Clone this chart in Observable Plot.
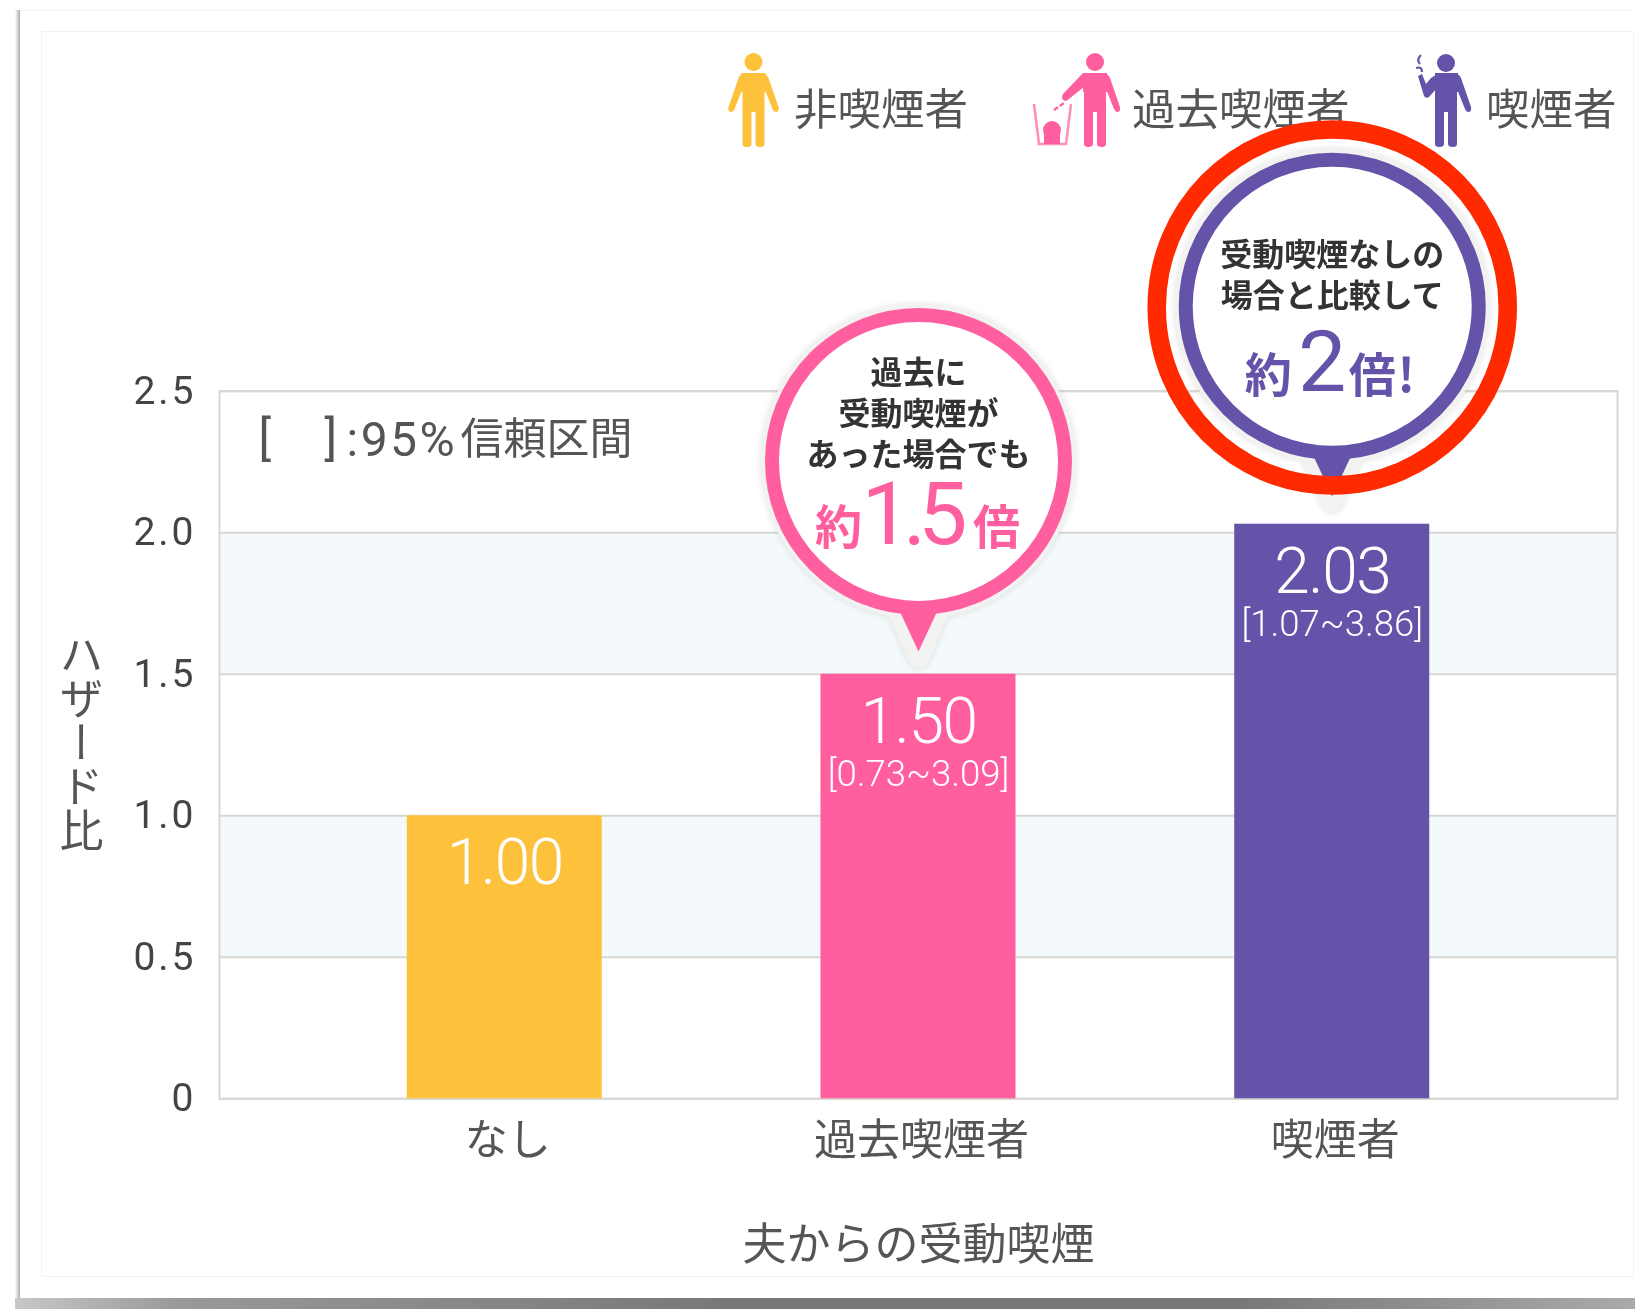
<!DOCTYPE html>
<html lang="ja">
<head>
<meta charset="utf-8">
<script src="https://cdn.jsdelivr.net/npm/d3@7"></script>
<script src="https://cdn.jsdelivr.net/npm/@observablehq/plot@0.6"></script>
<style>
html,body{margin:0;padding:0;background:#fff;overflow:hidden}
#page{position:relative;width:1635px;height:1309px;overflow:hidden;background:#fff}
#page>*{position:absolute}
.legend{font:43.5px "Noto Sans CJK JP";color:#555;line-height:1;white-space:nowrap;filter:blur(.6px)}
#page g[font-size="39"] text{letter-spacing:3px}
#page g[font-size="64"] text{letter-spacing:-1.5px}
#page g[font-size="88"] text{letter-spacing:-8px}
#page g[font-size="48"] text{letter-spacing:2.5px}
</style>
</head>
<body>
<div id="page">
  <div style="left:15px;top:10px;width:5px;height:1292px;background:linear-gradient(90deg,#fff,#aaa)"></div>
  <div style="left:20px;top:10px;width:1615px;height:1288px;background:#fff;border-top:1px solid #f4f4f4"></div>
  <div style="left:15px;top:1298px;width:1620px;height:11px;background:linear-gradient(90deg,#c8c8c8 0%,#999 10%,#777 45%,#777 75%,#aaa 100%)"></div>
  <div style="left:41px;top:31px;width:1591px;height:1244px;border:1px solid #f2f2f2"></div>
  <svg style="left:0;top:0;filter:blur(.6px)" width="1635" height="200" id="icons">
    <defs>
      <path id="legs" d="M2 112L2 144Q2 147 7 147Q11 147 11 144L11 88L-11 88L-11 144Q-11 147 -7 147Q-2 147 -2 144L-2 112Z"/>
      <path id="armR" d="M6 73Q13 73 15 78L25 107Q26 112 22 112Q20 112 19 109L9 84Z"/>
      <path id="armL" d="M-6 73Q-13 73 -15 78L-25 107Q-26 112 -22 112Q-20 112 -19 109L-9 84Z"/>
    </defs>
    <g fill="#fdc13c" transform="translate(753.5,0)">
      <circle cy="62" r="9"/><path d="M-12 73H12V92H-12Z"/><use href="#legs"/><use href="#armR"/><use href="#armL"/>
    </g>
    <g fill="#ff5f9f" transform="translate(1095,0)">
      <circle cy="62" r="9"/><path d="M-12 73H12V92H-12Z"/><use href="#legs"/><use href="#armR"/>
      <path d="M-5 73L-12 73L-32 94Q-35 99 -30 101Q-28 101 -26 99L-10 86Z"/>
    </g>
    <g transform="translate(1052,0)">
      <path d="M-18 104L-13 144H14L19 104" fill="none" stroke="#ff8fbb" stroke-width="2.6"/>
      <circle cy="130" r="9" fill="#ff5f9f"/>
      <path d="M-8 132H8V144H-8Z" fill="#ff5f9f"/>
      <path d="M2 110L12 103" stroke="#ff5f9f" stroke-width="2.4" stroke-dasharray="5 2"/>
    </g>
    <g fill="#6453a9" transform="translate(1446,0)">
      <circle cy="63" r="9"/><path d="M-11 73H12V92H-11Z"/><use href="#legs"/><use href="#armR"/>
      <path d="M-7 73L-15 78L-20 84L-24 74L-28 76L-22 96Q-20 99 -17 97L-9 88Z"/>
      <path d="M-25 55Q-30 60 -26 64M-30 68Q-24 66 -24 72" fill="none" stroke="#6453a9" stroke-width="2.2"/>
    </g>
  </svg>
  <div class="legend" style="left:794px;top:85px">非喫煙者</div>
  <div class="legend" style="left:1132px;top:85px">過去喫煙者</div>
  <div class="legend" style="left:1486px;top:85px">喫煙者</div>
</div>
<script>
const categories = ["なし", "過去喫煙者", "喫煙者"];
const hazard = [1.00, 1.50, 2.03];
const ciLabels = [null, "[0.73~3.09]", "[1.07~3.86]"];
const barColors = ["#fdc13c", "#ff5f9f", "#6453a9"];
const yTicks = [0, 0.5, 1, 1.5, 2, 2.5];
const bandRanges = [[0.5, 1], [1.5, 2]];
const xTitle = "夫からの受動喫煙";
const yTitle = "ハザード比";
const ciNoteLatin = ":95%";
const ciNoteCjk = "信頼区間";
const pinkLines = ["過去に", "受動喫煙が", "あった場合でも"];
const purpleLines = ["受動喫煙なしの", "場合と比較して"];

const latin = 'Roboto, "Noto Sans CJK JP"';
const cjk = '"Noto Sans CJK JP"';
const bars = categories.map((c, i) => ({c, v: hazard[i], ci: ciLabels[i], color: barColors[i]}));
const callouts = [
  {c: categories[1], y: 2.252, color: barColors[1]},
  {c: categories[2], y: 2.80, color: barColors[2]}
];

const tailRatio = 1.297, baseRatio = 0.15;
const tail = {draw(p, size) {
  const R = Math.sqrt(size / Math.PI), b = R * baseRatio, h = Math.sqrt(R * R - b * b);
  p.moveTo(-b, h - 2); p.lineTo(b, h - 2); p.lineTo(0, R * tailRatio); p.closePath();
}};
const halo = {draw(p, size) {
  const R = Math.sqrt(size / Math.PI), b = R * baseRatio, h = Math.sqrt(R * R - b * b);
  const a = Math.atan2(h, b);
  p.moveTo(0, R * tailRatio * 1.03);
  p.lineTo(b, h);
  p.arc(0, 0, R, a, Math.PI - a, true);
  p.closePath();
}};
const redEllipse = {draw(p, size) {
  const rx = Math.sqrt(size / Math.PI), ry = rx * 1.014, k = 0.5523;
  p.moveTo(rx, 0);
  p.bezierCurveTo(rx, k * ry, k * rx, ry, 0, ry);
  p.bezierCurveTo(-k * rx, ry, -rx, k * ry, -rx, 0);
  p.bezierCurveTo(-rx, -k * ry, -k * rx, -ry, 0, -ry);
  p.bezierCurveTo(k * rx, -ry, rx, -k * ry, rx, 0);
  p.closePath();
}};

function big(row, txt, dx, dy, size, family, weight) {
  return Plot.text([row], {x: "c", y: "y", text: () => txt, dx, dy, fontSize: size, fontFamily: family,
    fontWeight: weight, fill: row.color, lineAnchor: "bottom"});
}
function lines(row, arr, startDy) {
  return arr.map((t, i) => Plot.text([row], {x: "c", y: "y", text: () => t, dy: startDy + i * 40.7,
    fontSize: 32, fontFamily: cjk, fontWeight: 700, fill: "#333"}));
}
function note(txt, dx, size, family) {
  return Plot.text([txt], {frameAnchor: "top-left", dx, dy: 49, text: d => d, fontSize: size, fontFamily: family,
    fill: "#555", lineAnchor: "middle", textAnchor: "start"});
}

const chart = Plot.plot({
  width: 1635, height: 1309,
  marginLeft: 219, marginRight: 18, marginTop: 390.7, marginBottom: 210.7,
  style: {background: "transparent", overflow: "visible"},
  x: {domain: categories, paddingInner: 0.5286, paddingOuter: 0.4538, round: false, label: null},
  y: {domain: [0, 2.5], label: null},
  marks: [
    Plot.rectY(bandRanges, {y1: d => d[0], y2: d => d[1], fill: "#f4f9fc"}),
    Plot.ruleY(yTicks, {stroke: "#d9d7d2", strokeWidth: 2}),
    Plot.frame({stroke: "#d9d7d2", strokeWidth: 2}),
    Plot.axisY({ticks: yTicks, tickSize: 0, tickPadding: 23, tickFormat: d => d === 0 ? "0" : d.toFixed(1),
      fontSize: 39, fontFamily: latin, fill: "#444", label: null}),
    Plot.axisX({tickSize: 0, tickPadding: 26, dx: 3, fontSize: 43, fontFamily: cjk, fill: "#555", label: null}),
    Plot.text([xTitle], {frameAnchor: "bottom", dy: 1245 - 1098.3, text: d => d, fontSize: 44, fontFamily: cjk, fill: "#555", lineAnchor: "middle"}),
    Plot.text([yTitle], {frameAnchor: "left", y: () => 1.31, dx: -138, text: d => d, fontSize: 44, fontFamily: cjk, fill: "#555", lineAnchor: "middle", textAnchor: "middle"}),
    note("[", 39, 47.5, latin),
    note("]", 105, 47.5, latin),
    note(ciNoteLatin, 127, 48, latin),
    note(ciNoteCjk, 241, 43, cjk),
    Plot.barY(bars, {x: "c", y: "v", fill: "color"}),
    Plot.text(bars, {x: "c", y: "v", text: d => d.v.toFixed(2), dy: 48, fontSize: 64, fontFamily: latin, fontWeight: 300, fill: "#fff"}),
    Plot.text(bars.filter(d => d.ci), {x: "c", y: "v", text: "ci", dy: 100, fontSize: 36.5, fontFamily: latin, fontWeight: 300, fill: "#fff"}),
    Plot.dot(callouts, {x: "c", y: "y", r: 146.5, symbol: halo, fill: "#fff", stroke: "#f2f2f0", strokeWidth: 22, strokeLinejoin: "round",
      imageFilter: "drop-shadow(0 0 3px rgba(0,0,0,.12))"}),
    Plot.dot(callouts, {x: "c", y: "y", r: 146.5, fill: "#fff", stroke: "color", strokeWidth: 14}),
    Plot.dot(callouts, {x: "c", y: "y", r: 146.5, symbol: tail, fill: "color", stroke: "none"}),
    ...lines(callouts[0], pinkLines, -87.5),
    big(callouts[0], "約", -80, 83, 47, cjk, 700),
    big(callouts[0], "1.5", -8, 83, 88, latin, 400),
    big(callouts[0], "倍", 78, 83, 47, cjk, 700),
    ...lines(callouts[1], purpleLines, -50.5),
    big(callouts[1], "約", -64, 86, 47, cjk, 700),
    big(callouts[1], "2", -10, 85, 86, latin, 400),
    big(callouts[1], "倍", 40, 86, 47, cjk, 700),
    big(callouts[1], "!", 74, 86, 47, cjk, 700),
    Plot.dot([callouts[1]], {x: "c", y: () => 2.796, r: 175.5, symbol: redEllipse, fill: "none", stroke: "#ff2a00", strokeWidth: 18.5})
  ]
});
d3.select(chart).selectAll("text").filter(function () { return this.textContent === yTitle; })
  .style("writing-mode", "vertical-rl").attr("dy", null);
chart.style.left = "0"; chart.style.top = "0"; chart.style.filter = "blur(.55px)";
document.getElementById("page").appendChild(chart);
</script>
</body>
</html>
